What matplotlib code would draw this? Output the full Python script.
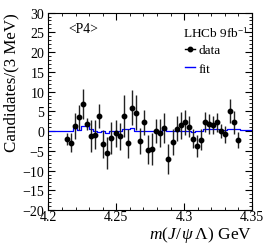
import numpy as np
import matplotlib
matplotlib.use("Agg")
import matplotlib.pyplot as plt
from matplotlib.ticker import MultipleLocator
from matplotlib.lines import Line2D

plt.rcParams['font.family'] = ['Liberation Serif', 'DejaVu Serif']
plt.rcParams['mathtext.fontset'] = 'custom'
plt.rcParams['mathtext.rm'] = 'Liberation Serif'
plt.rcParams['mathtext.it'] = 'Liberation Serif:italic'

# data: 3 MeV bins, centres from 4.2135 GeV
bin_width = 0.003
first_centre = 4.2135
counts = [-2.1, -2.9, 1.3, 3.5, 6.8, 1.75, -1.2, -0.9, 3.8, -3.25,
          -5.5, -1.7, -0.6, -1.3, 3.8, -3.1, 5.9, 4.7, -2.5, 2.2,
          -4.7, -4.6, 0.0, -0.5, 0.9, -7.05, -2.8, 0.6, 1.5, 2.2,
          1.1, -1.9, -3.8, -2.2, 2.3, 1.8, 1.5, 2.2, 0.05, -0.8,
          5.1, 2.2, -2.3]
errors = [1.5, 2.3, 3.4, 3.2, 3.8, 1.5, 4.0, 3.6, 3.0, 3.6,
          4.0, 4.0, 3.5, 3.4, 5.3, 3.6, 4.4, 4.4, 3.4, 3.2,
          3.6, 4.0, 3.0, 3.6, 3.8, 3.8, 3.2, 3.2, 3.4, 3.2,
          2.7, 2.5, 2.7, 2.7, 2.5, 2.5, 2.3, 2.5, 1.7, 2.1,
          3.0, 3.0, 2.1]

# fit: step values per 3 MeV bin from 4.200 to 4.350
fit_values = [0, 0, 0, 0, 0, 0, 0.7, 0.3, 1.3, 1.3,
              0.4, -0.1, -0.3, -0.1, -0.5, -0.1, 0.1, -0.1, 0.5, 0.5,
              0.7, -0.1, -0.1, 0.1, 0.1, 0, 0, 0, 0.8, 0,
              0.1, 0.1, -0.1, 0.1, 0.1, -0.3, -0.1, 0.1, 0.4, 0.4,
              0.4, 0.4, 0.2, 0.2, 0.4, 0.4, 0.4, 0.2, 0.2, 0.2]

x = first_centre + bin_width * np.arange(len(counts))
edges = 4.2 + bin_width * np.arange(len(fit_values) + 1)

fig = plt.figure(figsize=(2.66, 2.51), dpi=100)
ax = fig.add_axes([0.182, 0.159, 0.765, 0.787])

fit_y = np.append(fit_values, fit_values[-1])
ax.step(edges, fit_y, where='post', color='#0000ff', lw=0.9, zorder=2)
ax.errorbar(x, counts, yerr=errors, fmt='o', color='black', ecolor='#222222',
            markersize=3.2, elinewidth=1.0, capsize=0, zorder=3)

ax.set_xlim(4.2, 4.35)
ax.set_ylim(-20, 30)
ax.xaxis.set_minor_locator(MultipleLocator(0.01))
ax.yaxis.set_minor_locator(MultipleLocator(1))
ax.set_xticks([4.2, 4.25, 4.3, 4.35])
ax.set_xticklabels(['4.2', '4.25', '4.3', '4.35'])
ax.set_yticks(np.arange(-20, 31, 5))
ax.set_yticklabels(['\u221220', '\u221215', '\u221210', '\u22125', '0', '5', '10', '15', '20', '25', '30'])
ax.tick_params(which='both', direction='in', top=True, right=True, labelsize=10)
ax.tick_params(axis='x', pad=0)
ax.tick_params(axis='y', pad=3)
ax.tick_params(which='major', length=5, width=0.8)
ax.tick_params(which='minor', length=2.5, width=0.6)

ax.set_ylabel('Candidates/(3 MeV)', fontsize=12.2, loc='top', labelpad=2)
ax.set_xlabel(r'$m(J/\,\psi\,\Lambda)$ GeV', fontsize=12.5, loc='right', labelpad=1)

ax.text(0.096, 0.92, '<P4>', transform=ax.transAxes, fontsize=9.9, va='center', ha='left')
ax.text(0.985, 0.9, r'LHCb 9fb$^{-1}$', transform=ax.transAxes, fontsize=9.5, va='center', ha='right')

handles = [Line2D([], [], color='black', marker='o', markersize=3.2, lw=1.0),
           Line2D([], [], color='#0000ff', lw=1.0)]
ax.legend(handles, ['data', 'fit'], loc='upper left', bbox_to_anchor=(0.67, 0.84),
          frameon=False, fontsize=9.5, handlelength=0.8, handletextpad=0.25,
          labelspacing=0.45, borderpad=0, borderaxespad=0)

fig.savefig('out.png', dpi=100)
